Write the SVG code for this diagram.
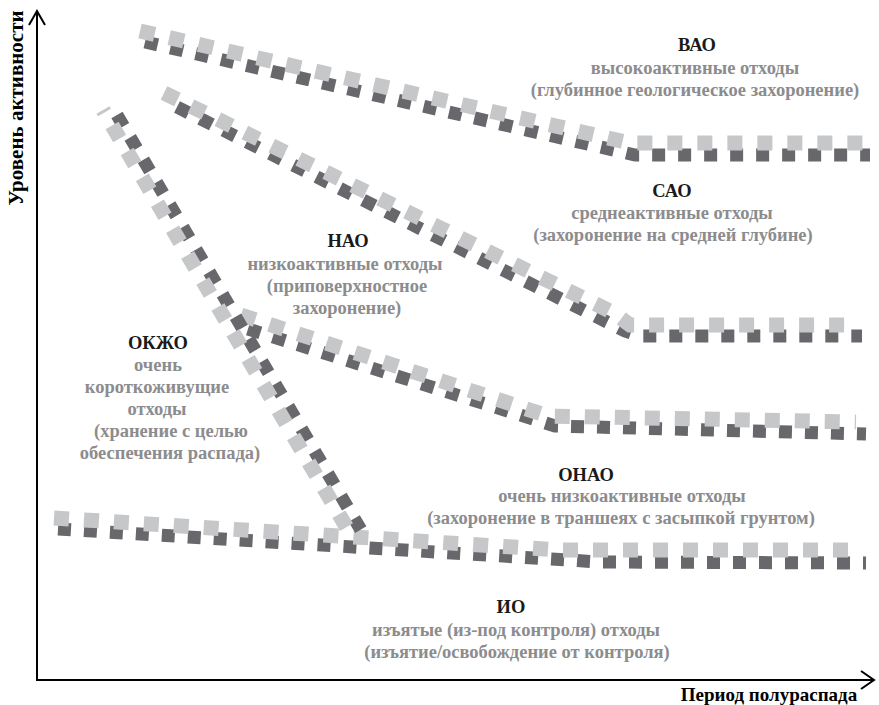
<svg xmlns="http://www.w3.org/2000/svg" width="879" height="705" viewBox="0 0 879 705">
<style>
.lt{fill:none;stroke:#c6c7c9;stroke-width:15;stroke-dasharray:15 15;stroke-linejoin:miter}
.dk{fill:none;stroke:#68686c;stroke-width:13;stroke-dasharray:13 13;stroke-linejoin:miter}
.ax{fill:none;stroke:#000;stroke-width:2}
text{font-family:"Liberation Serif","Times New Roman",serif;font-weight:bold;text-anchor:middle}
.t{fill:#1a1a1a;font-size:18.5px}
.s{fill:#8c8c8e;font-size:18.5px}
.a{fill:#000;font-size:19px}
</style>
<rect width="879" height="705" fill="#fff"/>
<g id="axes">
<path class="ax" d="M37,681 V11 M29,25 L37,11 L45,25"/>
<path class="ax" d="M37,680 H874 M861,671 L874,680 L861,689"/>
<text class="a" style="font-size:21px" transform="translate(23,108) rotate(-90)">Уровень активности</text>
<text class="a" x="769" y="701">Период полураспада</text>
</g>
<g id="connectors">
<path class="dk" d="M145,42 L635,155 L870,155"/>
<path class="lt" d="M140,31 L630,143 L872,143"/>
<path class="dk" d="M177,107 L625,331 L640,336 L862,336"/>
<path class="lt" d="M164,93 L614,313 L630,325 L858,325"/>
<path class="dk" d="M248,329 L555,426 L866,434"/>
<path class="lt" d="M241,315 L548,416 L856,422"/>
<path class="dk" d="M58,529 L600,562 L866,563"/>
<path class="lt" d="M54,518 L560,550 L856,550"/>
<path class="dk" d="M117,115 L361,530"/>
<path class="lt" style="stroke-dashoffset:12" d="M103,110 L347,528"/>
</g>
<g id="vao">
<text class="t" x="697" y="51">ВАО</text>
<text class="s" x="695" y="74">высокоактивные отходы</text>
<text class="s" x="695" y="96">(глубинное геологическое захоронение)</text>
</g>
<g id="sao">
<text class="t" x="672" y="197">САО</text>
<text class="s" x="672" y="219">среднеактивные отходы</text>
<text class="s" x="673" y="241">(захоронение на средней глубине)</text>
</g>
<g id="nao">
<text class="t" x="348" y="247">НАО</text>
<text class="s" x="345" y="270">низкоактивные отходы</text>
<text class="s" x="347" y="292">(приповерхностное</text>
<text class="s" x="347" y="314">захоронение)</text>
</g>
<g id="okzho">
<text class="t" x="158" y="349">ОКЖО</text>
<text class="s" x="158" y="371">очень</text>
<text class="s" x="157" y="393">короткоживущие</text>
<text class="s" x="157" y="415">отходы</text>
<text class="s" x="171" y="437">(хранение с целью</text>
<text class="s" x="170" y="459">обеспечения распада)</text>
</g>
<g id="onao">
<text class="t" x="586" y="481">ОНАО</text>
<text class="s" x="622" y="502">очень низкоактивные отходы</text>
<text class="s" x="621" y="524">(захоронение в траншеях с засыпкой грунтом)</text>
</g>
<g id="io">
<text class="t" x="511" y="613">ИО</text>
<text class="s" x="516" y="636">изъятые (из-под контроля) отходы</text>
<text class="s" x="517" y="658">(изъятие/освобождение от контроля)</text>
</g>
</svg>
